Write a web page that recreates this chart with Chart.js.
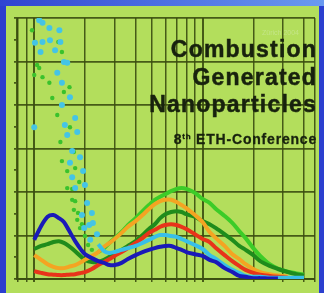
<!DOCTYPE html>
<html>
<head>
<meta charset="utf-8">
<script src="https://cdn.jsdelivr.net/npm/chart.js@4.4.1/dist/chart.umd.min.js"></script>
<style>
  html, body { margin: 0; padding: 0; }
  body { width: 324px; height: 293px; background: #2b3fcf; position: relative; overflow: hidden; }
  #topbar { position: absolute; left: 0; top: 0; width: 324px; height: 6px; background: linear-gradient(to right, #2f44d2, #6a9af0); }
  #panel { position: absolute; left: 6px; top: 6px; width: 313px; height: 287px; background: #b3de5c; }
  .t { position: absolute; right: 7px; font-family: "Liberation Sans", Arial, sans-serif; font-weight: bold; color: #18220e; white-space: nowrap; -webkit-text-stroke: 0.5px #18220e; }
  .big { font-size: 23px; line-height: 23px; letter-spacing: 1.2px; }
  .small { font-size: 14px; line-height: 14px; letter-spacing: 0.8px; -webkit-text-stroke: 0.3px #18220e; }
  .small sup { font-size: 8px; vertical-align: 5px; line-height: 0; }
  .faint { position: absolute; left: 262px; top: 29px; font: 7px "Liberation Sans", Arial, sans-serif; color: rgba(210, 235, 170, 0.55); }
</style>
</head>
<body>
<div id="topbar"></div>
<div id="panel"><canvas id="chart" width="313" height="287"></canvas></div>
<div class="faint">Zürich 2004</div>
<div class="t big" style="top:38px">Combustion</div>
<div class="t big" style="top:66px">Generated</div>
<div class="t big" style="top:93px">Nanoparticles</div>
<div class="t small" style="top:132px">8<sup>th</sup> ETH-Conference</div>
<script>
// -------------------- Data --------------------
// particle diameter (log axis) shared by the size distribution curves
const diameters = [9.5, 10, 11, 12, 13, 14, 15, 16, 17.5, 19, 20, 22, 24, 26, 28, 30, 33, 36, 40, 44, 48, 52, 56, 60, 65, 70, 75, 80, 90, 100, 110, 120, 135, 150, 165, 180, 200, 220, 250, 280, 320, 360, 400];

const lightGreen = [null, null, null, null, null, null, null, null, null, null, null, null,
  0.62, 0.71, 0.83, 0.94, 1.08, 1.24, 1.40, 1.56, 1.70, 1.82, 1.89, 1.95, 2.02, 2.07, 2.09, 2.07, 1.98, 1.84, 1.75, 1.61, 1.45, 1.29, 1.10, 0.94, 0.71, 0.53, 0.34, 0.24, 0.17, 0.13, 0.10];
const orange = [null, 0.55, 0.44, 0.34, 0.28, 0.25, 0.25, 0.28, 0.32, 0.39, 0.44, 0.53, 0.62, 0.74, 0.83, 0.92, 1.06, 1.20, 1.33, 1.47, 1.61, 1.72, 1.79, 1.82, 1.82, 1.77, 1.70, 1.63, 1.47, 1.31, 1.08, 0.94, 0.76, 0.57, 0.46, 0.34, 0.23, 0.16, 0.11, 0.08, 0.06, null, null];
const darkGreen = [null, 0.69, 0.76, 0.80, 0.85, 0.87, 0.83, 0.76, 0.64, 0.51, 0.44, 0.39, 0.39, 0.44, 0.51, 0.57, 0.67, 0.76, 0.87, 1.01, 1.15, 1.26, 1.40, 1.49, 1.54, 1.56, 1.54, 1.49, 1.43, 1.33, 1.26, 1.17, 1.03, 0.90, 0.76, 0.67, 0.55, 0.41, 0.30, 0.23, 0.16, 0.11, 0.08];
const red = [null, 0.18, 0.14, 0.11, 0.10, 0.09, 0.09, 0.10, 0.11, 0.14, 0.16, 0.23, 0.32, 0.39, 0.46, 0.53, 0.62, 0.71, 0.83, 0.94, 1.06, 1.13, 1.20, 1.24, 1.26, 1.24, 1.20, 1.15, 1.03, 0.92, 0.85, 0.71, 0.55, 0.41, 0.30, 0.21, 0.14, 0.10, 0.07, 0.05, 0.03, null, null];
const cyan = [null, null, null, null, null, null, null, null, null, null, null, null,
  0.80, 0.64, 0.60, 0.62, 0.67, 0.71, 0.76, 0.83, 0.90, 0.97, 1.01, 1.01, 0.99, 0.97, 0.92, 0.87, 0.78, 0.69, 0.55, 0.46, 0.32, 0.21, 0.14, 0.07, 0.05, 0.05, 0.03, 0.03, 0.03, 0.03, 0.03];
const darkBlue = [null, 0.90, 1.22, 1.43, 1.47, 1.40, 1.31, 1.13, 0.87, 0.67, 0.57, 0.48, 0.41, 0.37, 0.32, 0.32, 0.37, 0.46, 0.55, 0.62, 0.67, 0.71, 0.74, 0.76, 0.76, 0.71, 0.67, 0.62, 0.57, 0.53, 0.44, 0.39, 0.25, 0.16, 0.07, 0.05, 0.02, 0.02, 0.01, 0.01, null, null, null];

// scattered nucleation-mode dots at small sizes
const cyanDotD = [10.7, 11.2, 12.3, 14.1, 12.4, 11.2, 14.3, 10.9, 15.0, 15.7, 13.7, 14.6, 16.3, 14.6, 17.5, 10.0, 15.2, 18.0, 15.7, 16.8, 18.7, 16.3, 19.5, 16.8, 20.0, 17.5, 20.6, 19.2, 22.0, 21.2, 22.3, 19.8, 21.5, 23.6, 10.1, 13.3];
const cyanDotV = [5.95, 5.89, 5.77, 5.72, 5.49, 5.45, 5.45, 5.22, 4.99, 4.97, 4.74, 4.51, 4.18, 4.00, 3.70, 3.49, 3.54, 3.38, 3.31, 2.94, 2.80, 2.67, 2.48, 2.34, 2.16, 2.09, 1.75, 1.47, 1.52, 1.24, 1.29, 1.17, 0.90, 1.03, 5.43, 5.26];
const greenDotD = [9.7, 10.1, 10.4, 10.0, 10.7, 11.2, 12.3, 13.9, 14.6, 15.0, 16.2, 12.8, 13.7, 16.3, 14.3, 17.2, 14.6, 15.7, 17.5, 18.5, 15.7, 16.8, 16.8, 17.5, 17.2, 18.2, 18.0, 19.2, 18.7, 20.0, 20.9, 22.0];
const greenDotV = [5.72, 5.45, 4.92, 4.69, 4.85, 4.64, 4.51, 5.45, 5.22, 4.30, 4.41, 4.16, 3.77, 3.49, 3.15, 2.92, 2.71, 2.48, 2.55, 2.23, 2.09, 2.07, 1.82, 1.79, 1.59, 1.52, 1.36, 1.26, 1.17, 0.99, 0.78, 0.67];

// grid positions
const xGrid = [8, 9, 10, 20, 30, 40, 50, 60, 70, 80, 90, 100, 200, 300, 400, 465];
const yGrid = [0, 0.5, 1, 1.5, 2, 2.5, 3, 3.5, 4, 4.5, 5, 5.5, 6];

// -------------------- Chart --------------------
const gridColor = 'rgba(58, 76, 16, 0.9)';

function curve(label, values, color, order) {
  return {
    label,
    data: diameters.map((d, i) => ({ x: d, y: values[i] })),
    borderColor: color,
    backgroundColor: color,
    borderWidth: 4,
    pointRadius: 0,
    tension: 0.3,
    spanGaps: false,
    order
  };
}

function dots(label, xs, ys, color, r, order) {
  return {
    label,
    data: xs.map((d, i) => ({ x: d, y: ys[i] })),
    showLine: false,
    pointRadius: r,
    pointBorderWidth: 0,
    pointBackgroundColor: color,
    order
  };
}

new Chart(document.getElementById('chart'), {
  type: 'line',
  data: {
    datasets: [
      dots('green dots', greenDotD, greenDotV, '#3ac22c', 2.2, 8),
      dots('cyan dots', cyanDotD, cyanDotV, '#44c4e6', 3, 7),
      curve('light green', lightGreen, '#3ccc28', 6),
      curve('dark green', darkGreen, '#1f8c1c', 5),
      curve('orange', orange, '#f4a422', 4),
      curve('red', red, '#e8341a', 3),
      curve('cyan', cyan, '#38bfe8', 2),
      curve('dark blue', darkBlue, '#1a1ab8', 1)
    ]
  },
  options: {
    responsive: false,
    animation: false,
    layout: { padding: { left: 8, top: 12, right: 3, bottom: 11 } },
    plugins: { legend: { display: false }, tooltip: { enabled: false } },
    scales: {
      x: {
        type: 'logarithmic',
        min: 7.9,
        max: 465,
        afterBuildTicks: scale => { scale.ticks = xGrid.map(v => ({ value: v })); },
        ticks: { display: false },
        grid: {
          color: gridColor,
          tickColor: gridColor,
          tickLength: 3,
          lineWidth: ctx => (ctx.tick && (ctx.tick.value === 10 || ctx.tick.value === 100)) ? 2 : 1.5
        },
        border: { color: gridColor, width: 2 }
      },
      y: {
        min: 0,
        max: 6,
        afterBuildTicks: scale => { scale.ticks = yGrid.map(v => ({ value: v })); },
        ticks: { display: false },
        grid: {
          color: ctx => (ctx.tick && ctx.tick.value % 1 !== 0) ? 'rgba(0,0,0,0)' : gridColor,
          tickColor: gridColor,
          tickLength: 3,
          lineWidth: 1.7
        },
        border: { color: gridColor, width: 2 }
      }
    }
  }
});
</script>
</body>
</html>
